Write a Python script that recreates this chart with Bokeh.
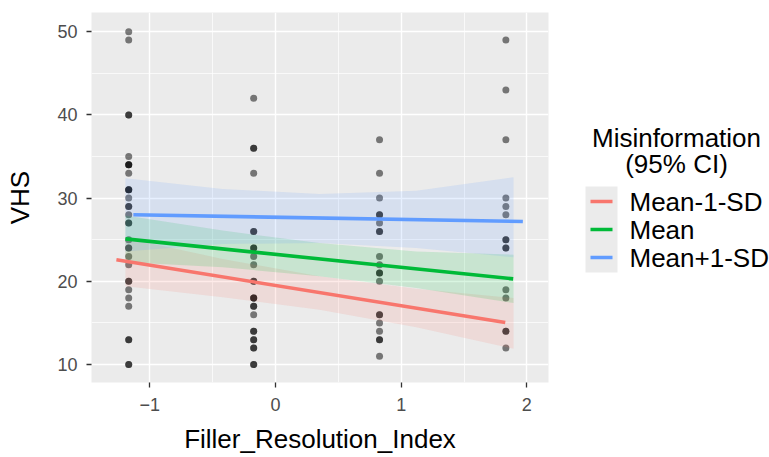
from bokeh.plotting import figure
from bokeh.layouts import row
from bokeh.models import FixedTicker, Range1d
from bokeh.embed import file_html
from bokeh.resources import INLINE

# ---------------- data ----------------
col_x = [-1.167, -0.173, 0.828, 1.833]
vhs_col1 = [50, 49, 40, 40, 35, 34, 34, 34, 33, 31, 31, 31, 30, 29, 29, 28, 27, 27,
            25, 24, 24, 23, 22, 20, 20, 19, 18, 17, 13, 13, 10, 10]
vhs_col2 = [42, 36, 36, 33, 26, 26, 24, 24, 23, 22, 20, 20, 18, 18, 18, 17, 17, 16,
            14, 14, 13, 13, 12, 12, 10, 10]
vhs_col3 = [37, 33, 30, 28, 28, 27, 26, 26, 23, 22, 21, 21, 20, 16, 16, 15, 14, 13, 13, 11]
vhs_col4 = [49, 43, 37, 30, 29, 28, 25, 25, 24, 24, 19, 18, 14, 14, 12]

series_names = ["Mean-1-SD", "Mean", "Mean+1-SD"]
series_colors = ["#F8766D", "#00BA38", "#619CFF"]

# fitted lines (start, end)
line_x = [[-1.265, 1.828], [-1.193, 1.891], [-1.13, 1.968]]
line_y = [[22.6, 15.05], [25.1, 20.3], [28.0, 27.2]]

# confidence bands
band_x = [-1.193, -0.42, 0.35, 1.12, 1.894]
band_lower = [[19.4, 18.1, 16.6, 14.5, 11.9],
              [22.3, 21.7, 20.6, 19.2, 17.4],
              [23.6, 24.5, 24.6, 24.0, 22.9]]
band_upper = [[25.2, 22.7, 20.6, 19.1, 18.0],
              [27.9, 26.1, 24.6, 23.6, 23.2],
              [32.4, 31.1, 30.5, 30.9, 32.5]]

x_ticks = [-1, 0, 1, 2]
x_minor = [-1.5, -0.5, 0.5, 1.5]
y_ticks = [10, 20, 30, 40, 50]
y_minor = [15, 25, 35, 45]

FONT = "Liberation Sans"
H = 457
TOP, BOTTOM = 12, 382

# ---------------- main plot ----------------
p = figure(width=568, height=H, x_range=Range1d(-1.463, 2.172), y_range=Range1d(7.85, 52.3),
           output_backend="svg", toolbar_location=None,
           min_border_left=91, min_border_right=20, min_border_top=TOP,
           min_border_bottom=H - BOTTOM)
p.background_fill_color = "#EBEBEB"
p.border_fill_color = "white"
p.outline_line_color = None

p.xaxis.ticker = FixedTicker(ticks=x_ticks, minor_ticks=x_minor)
p.yaxis.ticker = FixedTicker(ticks=y_ticks, minor_ticks=y_minor)
for g in (p.xgrid, p.ygrid):
    g.grid_line_color = "white"
    g.grid_line_width = 1.4
    g.minor_grid_line_color = "white"
    g.minor_grid_line_width = 0.7

for ax in (p.xaxis, p.yaxis):
    ax.axis_line_color = None
    ax.major_tick_line_color = "#333333"
    ax.major_tick_line_width = 1.3
    ax.major_tick_out = 5
    ax.major_tick_in = 0
    ax.minor_tick_out = 0
    ax.minor_tick_in = 0
    ax.major_label_text_color = "#4D4D4D"
    ax.major_label_text_font = FONT
    ax.major_label_text_font_size = "18px"
    ax.axis_label_text_font = FONT
    ax.axis_label_text_font_size = "26px"
    ax.axis_label_text_font_style = "normal"
    ax.axis_label_text_color = "black"

p.xaxis.axis_label = "Filler_Resolution_Index"
p.yaxis.axis_label = "VHS"
p.xaxis.major_label_standoff = 10
p.yaxis.major_label_standoff = 9
p.xaxis.axis_label_standoff = 10
p.yaxis.axis_label_standoff = 19

# points
px, py = [], []
for xv, col in zip(col_x, [vhs_col1, vhs_col2, vhs_col3, vhs_col4]):
    px += [xv] * len(col)
    py += col
p.scatter(px, py, size=7, color="black", alpha=0.5, line_color=None)

# bands
for lo, hi, c in zip(band_lower, band_upper, series_colors):
    p.varea(x=band_x, y1=lo, y2=hi, fill_color=c, fill_alpha=0.15)

# lines
for lx, ly, c in zip(line_x, line_y, series_colors):
    p.line(lx, ly, line_color=c, line_width=3.6)

# ---------------- legend panel ----------------
# same borders as the main plot so the row layout keeps both frames aligned;
# y range maps directly to page pixel rows
LW = 769 - 568
leg = figure(width=LW, height=H, x_range=Range1d(0, LW), y_range=Range1d(BOTTOM, TOP),
             output_backend="svg", toolbar_location=None, x_axis_type=None, y_axis_type=None,
             min_border_left=0, min_border_right=0, min_border_top=TOP,
             min_border_bottom=H - BOTTOM)
leg.outline_line_color = None
leg.grid.visible = False
leg.background_fill_color = "white"
leg.border_fill_color = "white"

leg.text(x=[108, 108], y=[137, 163], text=["Misinformation", "(95% CI)"],
         text_align="center", text_baseline="middle", text_font_size="26px",
         text_font={"value": FONT}, text_color="black")
leg.quad(left=[17], right=[49], top=[186], bottom=[272], fill_color="#EBEBEB", line_color=None)
row_y = [201, 229, 257]
for yy, c in zip(row_y, series_colors):
    leg.line([22, 44], [yy, yy], line_color=c, line_width=3.6)
leg.text(x=[61] * 3, y=row_y, text=series_names, text_align="left",
         text_baseline="middle", text_font_size="26px", text_font={"value": FONT},
         text_color="black")

layout = row(p, leg)
open("out.html", "w").write(file_html(layout, INLINE))
